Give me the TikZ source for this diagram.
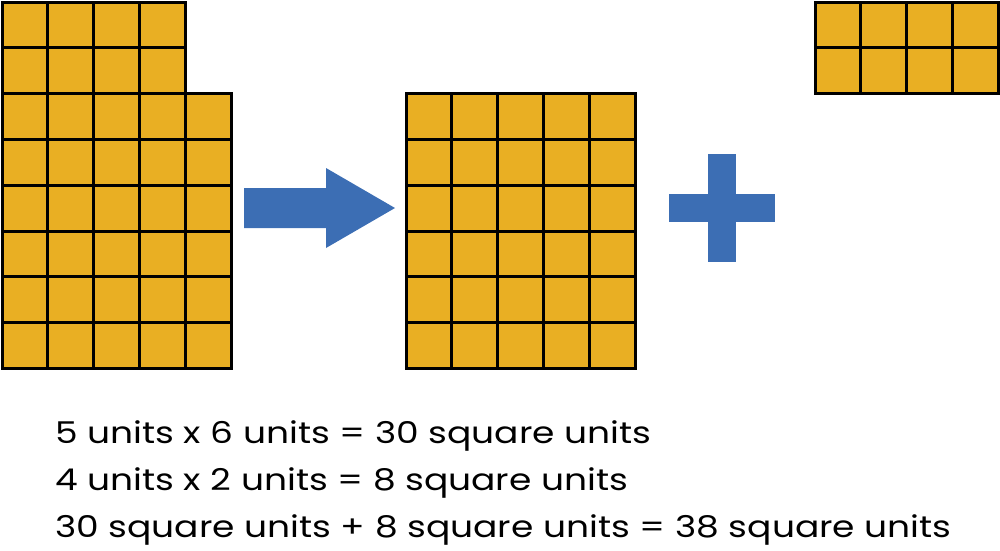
\documentclass[tikz,border=0pt]{standalone}
\usepackage{fontspec}
\setmainfont{Poppins}[FakeStretch=1.2]
\definecolor{gold}{HTML}{E9AF23}
\definecolor{blu}{HTML}{3C6EB4}
\tikzset{
  cell/.style={fill=gold,draw=black,line width=3pt},
  bluefill/.style={fill=blu},
  eq/.style={anchor=base west,inner sep=0pt,font=\fontsize{30}{36}\selectfont}
}
\begin{document}
\begin{tikzpicture}[x=1pt,y=-1pt]
\useasboundingbox (0,0) rectangle (1000,550);
\def\c{45.8}
% left composite shape
\foreach \i in {0,...,3}{\foreach \j in {0,1}{
  \draw[cell] ({2+\i*\c},{2+\j*\c}) rectangle ++(\c,\c);}}
\foreach \i in {0,...,4}{\foreach \j in {0,...,5}{
  \draw[cell] ({2+\i*\c},{93.6+\j*\c}) rectangle ++(\c,\c);}}
% middle rectangle
\foreach \i in {0,...,4}{\foreach \j in {0,...,5}{
  \draw[cell] ({406+\i*\c},{93.6+\j*\c}) rectangle ++(\c,\c);}}
% top right rectangle
\foreach \i in {0,...,3}{\foreach \j in {0,1}{
  \draw[cell] ({815+\i*\c},{2+\j*\c}) rectangle ++(\c,\c);}}
% arrow
\fill[bluefill] (244,188) -- (326,188) -- (326,168) -- (395,208) -- (326,248) -- (326,228) -- (244,228) -- cycle;
% plus
\fill[bluefill] (708,154) rectangle (736,262);
\fill[bluefill] (669,194) rectangle (775,222);
% text
\node[eq] (l1) at (55,443) {5 units x 6 units = 30 square units};
\node[eq] (l2) at (55,490) {4 units x 2 units = 8 square units};
\node[eq] (l3) at (55,537) {30 square units + 8 square units = 38 square units};
\end{tikzpicture}
\end{document}
